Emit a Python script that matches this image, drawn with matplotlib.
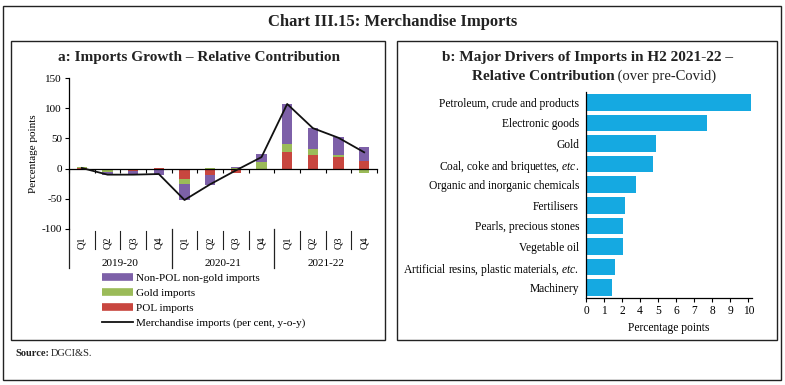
import numpy as np
import matplotlib
matplotlib.use("Agg")
import matplotlib.pyplot as plt
from matplotlib.lines import Line2D
from matplotlib.patches import Rectangle

# ---------------- data ----------------
quarters = ["Q1", "Q2", "Q3", "Q4"] * 3
years = ["2019-20", "2020-21", "2021-22"]
pol = [0.3, -3, -4, 1, -18, -10, -7, -3, 28, 22, 19, 13]
gold = [2.2, -3, -0.5, 0, -7, 1, 1, 11, 12, 11, 4, -7]
nonpol = [-1.0, -4, -6, -10, -27, -17, 2, 13, 67, 34, 29, 22]
merch = [1, -10, -10, -9, -52, -26, -3, 19, 107, 67, 51, 27]
series_labels = ["Non-POL non-gold imports", "Gold imports", "POL imports",
                 "Merchandise imports (per cent, y-o-y)"]
yticks_a = [150, 100, 50, 0, -50, -100]

drivers = ["Petroleum, crude and products", "Electronic goods", "Gold",
           r"Coal, coke and briquettes, $\mathit{etc.}$",
           "Organic and inorganic chemicals", "Fertilisers",
           "Pearls, precious stones", "Vegetable oil",
           r"Artificial resins, plastic materials, $\mathit{etc.}$", "Machinery"]
driver_vals = [10.15, 7.72, 4.89, 4.71, 3.54, 2.32, 2.14, 2.14, 1.59, 1.46]
xtick_labels_b = [0, 1, 2, 4, 5, 6, 7, 8, 9, 10]

# ---------------- style ----------------
plt.rcParams["font.family"] = ["Liberation Serif", "DejaVu Serif"]
plt.rcParams["mathtext.fontset"] = "custom"
plt.rcParams["mathtext.rm"] = "Liberation Serif"
plt.rcParams["mathtext.it"] = "Liberation Serif:italic"

C_PUR = "#7D60A8"
C_GRN = "#9BBB59"
C_RED = "#C8463F"
C_BLUE = "#15A9E1"
C_TXT = "#222222"

W, H = 785, 385
fig = plt.figure(figsize=(W / 100, H / 100), dpi=100)
renderer = fig.canvas.get_renderer()


def fx(x):
    return x / W


def fy(y):
    return 1 - y / H


def box(x0, y0, x1, y1, lw=1.0):
    fig.add_artist(Rectangle((fx(x0), fy(y1)), fx(x1) - fx(x0), fy(y0) - fy(y1),
                             transform=fig.transFigure, fill=False,
                             edgecolor=C_TXT, lw=lw))


def text_width(t):
    return t.get_window_extent(renderer=renderer).width


box(3, 6, 781, 380, lw=1.0)
box(11, 41, 385, 340, lw=1.0)
box(397, 41, 777, 340, lw=1.0)

fig.text(fx(393), fy(22), "Chart III.15: Merchandise Imports", ha="center",
         va="center", fontsize=12, fontweight="bold", color=C_TXT)
fig.text(fx(199), fy(58), "a: Imports Growth \u2013 Relative Contribution",
         ha="center", va="center", fontsize=11, fontweight="bold", color=C_TXT)
fig.text(fx(588), fy(58), "b: Major Drivers of Imports in H2 2021-22 \u2013",
         ha="center", va="center", fontsize=11, fontweight="bold", color=C_TXT)

# two-part second title line, centred as a whole
ta = fig.text(0, fy(76), "Relative Contribution", ha="left", va="center",
              fontsize=11, fontweight="bold", color=C_TXT)
tb = fig.text(0, fy(76), " (over pre-Covid)", ha="left", va="center",
              fontsize=10.5, color=C_TXT)
wa, wb = text_width(ta), text_width(tb)
start = 594 - (wa + wb) / 2
ta.set_x(fx(start))
tb.set_x(fx(start + wa))

sa = fig.text(fx(15), fy(354), "Source:", ha="left", va="center", fontsize=7.5,
              fontweight="bold", color=C_TXT)
fig.text(fx(15 + text_width(sa) + 2), fy(354), "DGCI&S.", ha="left",
         va="center", fontsize=7.5, color=C_TXT)

# ---------------- panel a ----------------
ax = fig.add_axes([fx(69), fy(229), fx(377) - fx(69), fy(78) - fy(229)])
x = np.arange(len(pol))
pos_base = np.zeros(len(x))
neg_base = np.zeros(len(x))
for vals, col in [(pol, C_RED), (gold, C_GRN), (nonpol, C_PUR)]:
    v = np.array(vals, dtype=float)
    base = np.where(v >= 0, pos_base, neg_base)
    ax.bar(x, v, bottom=base, width=0.4, color=col, zorder=2)
    pos_base = pos_base + np.where(v >= 0, v, 0)
    neg_base = neg_base + np.where(v < 0, v, 0)
ax.plot(x, merch, color="#111111", lw=1.3, zorder=3)

ax.set_xlim(-0.5, len(x) - 0.5)
ax.set_ylim(-100, 150)
ax.set_yticks(yticks_a)
ax.set_yticklabels([str(v) for v in yticks_a], fontsize=8)
ax.tick_params(axis="y", direction="out", length=3, width=0.8, pad=2)
ax.set_ylabel("Percentage points", fontsize=8, labelpad=3)
for s in ["top", "right"]:
    ax.spines[s].set_visible(False)
ax.spines["bottom"].set_position(("data", 0))
ax.spines["bottom"].set_linewidth(0.9)
ax.spines["left"].set_linewidth(0.9)
ax.set_xticks(np.arange(len(x) + 1) - 0.5)
ax.set_xticklabels([])
ax.tick_params(axis="x", direction="out", length=3, width=0.8)

trans = ax.get_xaxis_transform()
for i, q in enumerate(quarters):
    ax.text(i, -0.088, q, transform=trans, rotation=90, ha="center",
            va="center", fontsize=7.5, clip_on=False)
for i in range(len(x)):
    if i % 4 == 0:
        ax.plot([i - 0.5, i - 0.5], [0, -0.26], transform=trans, color=C_TXT,
                lw=0.9, clip_on=False)
    else:
        ax.plot([i - 0.5, i - 0.5], [-0.01, -0.13], transform=trans,
                color=C_TXT, lw=0.8, clip_on=False)
for k, yr in enumerate(years):
    ax.text(4 * k + 1.5, -0.228, yr, transform=trans, ha="center", va="center",
            fontsize=8, clip_on=False)

handles = [Line2D([], [], color=C_PUR, lw=5.5, solid_capstyle="butt"),
           Line2D([], [], color=C_GRN, lw=5.5, solid_capstyle="butt"),
           Line2D([], [], color=C_RED, lw=5.5, solid_capstyle="butt"),
           Line2D([], [], color="#111111", lw=1.3)]
fig.legend(handles, series_labels, loc="upper left",
           bbox_to_anchor=(fx(102), fy(273)), frameon=False, fontsize=8,
           handlelength=2.8, handletextpad=0.25, labelspacing=0.48, borderpad=0,
           borderaxespad=0)

# ---------------- panel b ----------------
lab_vals = np.array(xtick_labels_b + [11], dtype=float)
lab_pos = np.arange(len(lab_vals), dtype=float)


def fwd(v):
    return np.interp(v, lab_vals, lab_pos)


def inv(p):
    return np.interp(p, lab_pos, lab_vals)


bx = fig.add_axes([fx(586), fy(298), fx(752) - fx(586), fy(92) - fy(298)])
bx.set_xscale("function", functions=(fwd, inv))
yb = np.arange(len(drivers))
bx.barh(yb, driver_vals, height=0.8, color=C_BLUE)
bx.set_ylim(len(drivers) - 0.5, -0.5)
bx.set_xlim(0, 10.2)
bx.set_xticks(xtick_labels_b)
bx.set_xticklabels([str(v) for v in xtick_labels_b], fontsize=8.3)
bx.xaxis.set_minor_locator(matplotlib.ticker.NullLocator())
bx.tick_params(axis="x", direction="out", length=3, width=0.8, pad=2)
bx.set_yticks(yb)
bx.set_yticklabels(drivers, fontsize=8.3)
bx.tick_params(axis="y", length=0, pad=5)
for s in ["top", "right"]:
    bx.spines[s].set_visible(False)
bx.spines["left"].set_linewidth(0.9)
bx.spines["bottom"].set_linewidth(0.9)
bx.set_xlabel("Percentage points", fontsize=8.3, labelpad=4)

fig.savefig("out.png", dpi=100)
